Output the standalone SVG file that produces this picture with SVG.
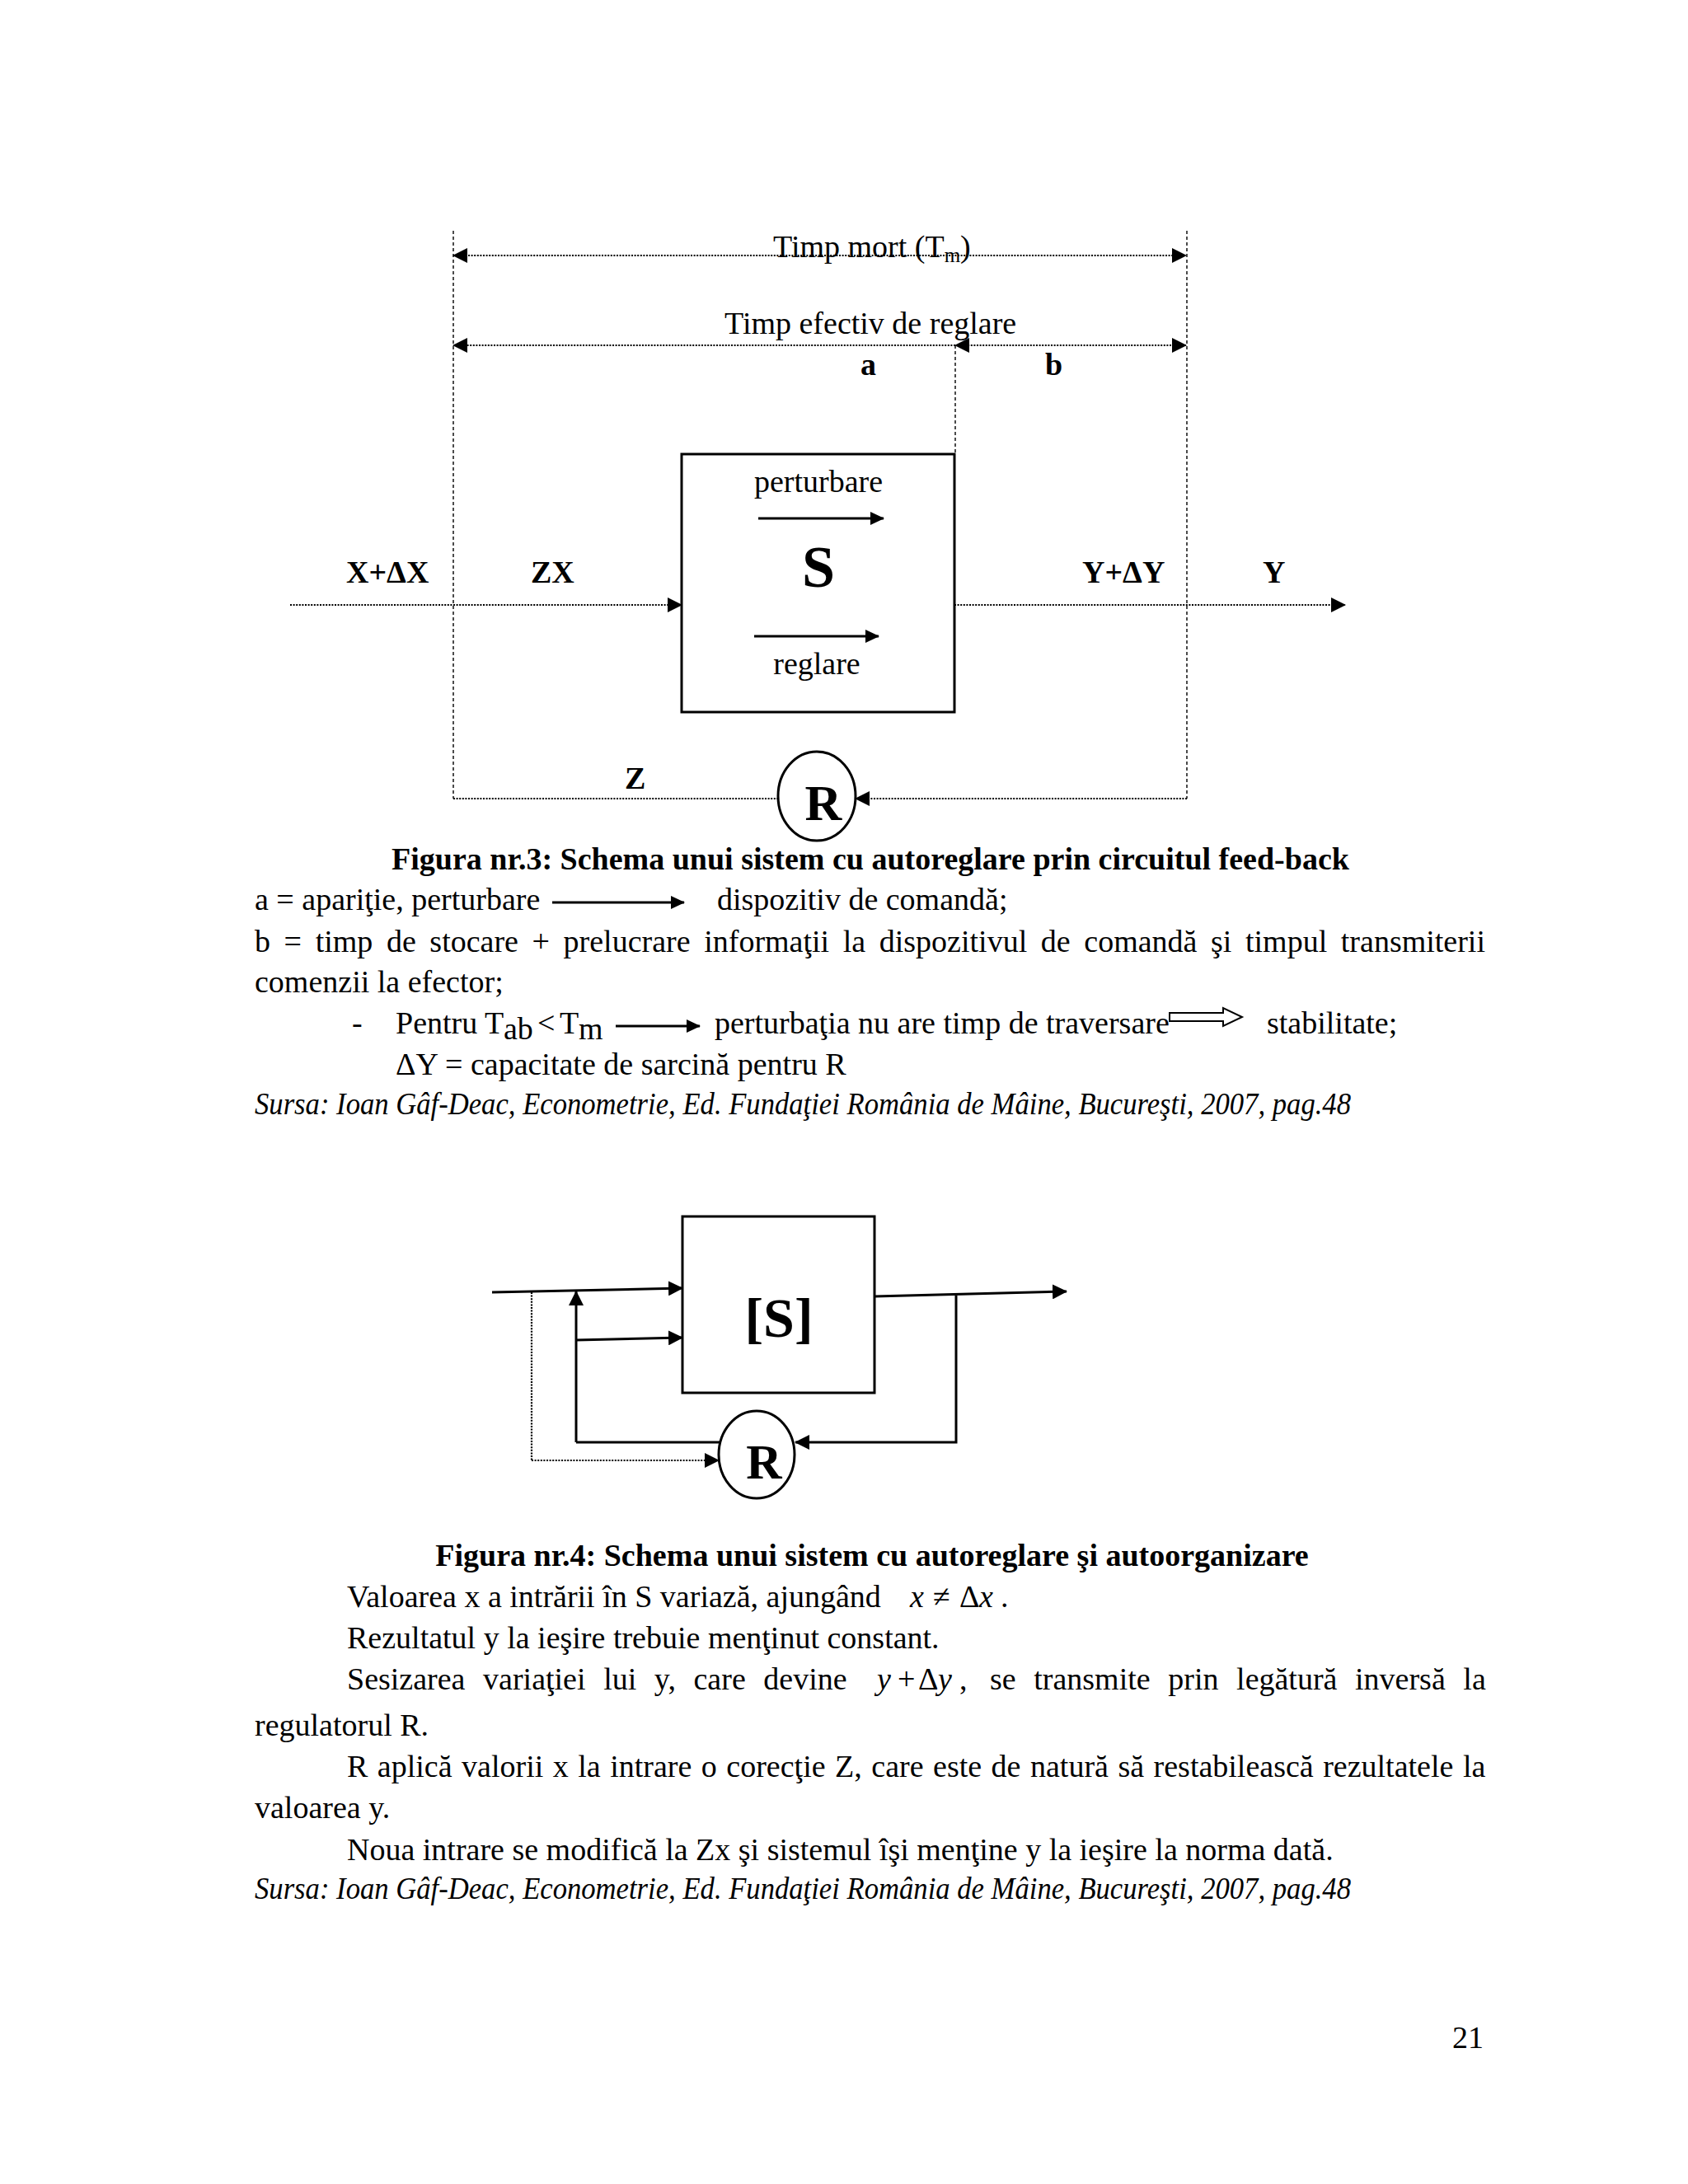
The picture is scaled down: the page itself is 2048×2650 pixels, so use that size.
<svg xmlns="http://www.w3.org/2000/svg" width="2048" height="2650" viewBox="0 0 2048 2650">
<style>
.t{font-family:"Liberation Serif","Times New Roman",serif;font-size:38px;fill:#000}
.b{font-weight:bold}
.i{font-style:italic}
.dot{stroke:#000;stroke-width:2.2;stroke-dasharray:2 1.6;fill:none}
.dash{stroke:#000;stroke-width:1.4;stroke-dasharray:4 3;fill:none}
.sol{stroke:#000;stroke-width:3;fill:none}
.box{stroke:#000;stroke-width:3;fill:none}
.circ{stroke:#000;stroke-width:3;fill:#fff}
</style>
<defs>
<marker id="ah" markerWidth="18" markerHeight="18" refX="17" refY="9" orient="auto-start-reverse" markerUnits="userSpaceOnUse"><path d="M0,0 L18,9 L0,18 z" fill="#000"/></marker>
<marker id="as" markerWidth="17" markerHeight="16" refX="16" refY="8" orient="auto" markerUnits="userSpaceOnUse"><path d="M0,0 L17,8 L0,16 z" fill="#000"/></marker>
</defs>
<rect width="2048" height="2650" fill="#fff"/>

<!-- Figure 3 -->
<g id="fig3-connectors">
<line class="dot" x1="550" y1="310" x2="1439" y2="310" marker-start="url(#ah)" marker-end="url(#ah)"/>
<line class="dot" x1="1159" y1="419" x2="550" y2="419" marker-end="url(#ah)"/>
<line class="dot" x1="1439" y1="419" x2="1159" y2="419" marker-start="url(#ah)" marker-end="url(#ah)"/>
<line class="dash" x1="550" y1="280" x2="550" y2="969"/>
<line class="dash" x1="1440" y1="280" x2="1440" y2="969"/>
<line class="dash" x1="1159" y1="419" x2="1159" y2="551"/>
<line class="dot" x1="352" y1="734" x2="827" y2="734" marker-end="url(#ah)"/>
<line class="dot" x1="1158" y1="734" x2="1632" y2="734" marker-end="url(#ah)"/>
<line class="dot" x1="550" y1="969" x2="944" y2="969"/>
<line class="dot" x1="1440" y1="969" x2="1038" y2="969" marker-end="url(#ah)"/>
<line class="sol" x1="920" y1="629" x2="1072" y2="629" marker-end="url(#as)"/>
<line class="sol" x1="915" y1="772" x2="1066" y2="772" marker-end="url(#as)"/>
</g>
<g id="fig3-S">
<rect class="box" x="827" y="551" width="331" height="313"/>
<text class="t" x="993" y="597" text-anchor="middle">perturbare</text>
<text class="t b" x="993" y="712" text-anchor="middle" style="font-size:72px">S</text>
<text class="t" x="991" y="818" text-anchor="middle">reglare</text>
</g>
<g id="fig3-R">
<ellipse class="circ" cx="991" cy="966" rx="47" ry="54"/>
<text class="t b" x="999" y="995" text-anchor="middle" style="font-size:62px">R</text>
</g>
<g id="fig3-labels">
<text class="t" x="938" y="312">Timp mort (T<tspan font-size="25" dy="6">m</tspan><tspan dy="-6">)</tspan></text>
<text class="t" x="879" y="405">Timp efectiv de reglare</text>
<text class="t b" x="1044" y="455">a</text>
<text class="t b" x="1268" y="455">b</text>
<text class="t b" x="420" y="707">X+ΔX</text>
<text class="t b" x="644" y="707">ZX</text>
<text class="t b" x="1313" y="707">Y+ΔY</text>
<text class="t b" x="1532" y="707">Y</text>
<text class="t b" x="758" y="957">Z</text>
</g>

<!-- Figure 3 text -->
<g id="fig3-text">
<text class="t b" x="1056" y="1055" text-anchor="middle">Figura nr.3: Schema unui sistem cu autoreglare prin circuitul feed-back</text>
<text class="t" x="309" y="1104">a = apariţie, perturbare</text>
<line class="sol" x1="670" y1="1095" x2="830" y2="1095" stroke-width="2" marker-end="url(#as)"/>
<text class="t" x="870" y="1104">dispozitiv de comandă;</text>
<text class="t" x="309" y="1155" word-spacing="7.1">b = timp de stocare + prelucrare informaţii la dispozitivul de comandă şi timpul transmiterii</text>
<text class="t" x="309" y="1204">comenzii la efector;</text>
<text class="t" x="427" y="1254">-</text>
<text class="t" x="480" y="1254">Pentru T</text>
<text class="t" x="611" y="1261" font-size="21">ab</text>
<text class="t" x="652" y="1254">&lt;</text>
<text class="t" x="679" y="1254">T</text>
<text class="t" x="702" y="1261" font-size="21">m</text>
<line class="sol" x1="747" y1="1245" x2="849" y2="1245" stroke-width="2" marker-end="url(#as)"/>
<text class="t" x="867" y="1254">perturbaţia nu are timp de traversare</text>
<path d="M1419,1229 L1484,1229 L1484,1223 L1507,1234 L1484,1245 L1484,1239 L1419,1239 Z" fill="#fff" stroke="#000" stroke-width="2"/>
<text class="t" x="1537" y="1254">stabilitate;</text>
<text class="t" x="480" y="1304">ΔY = capacitate de sarcină pentru R</text>
<text class="t i" x="309" y="1352" textLength="1330" lengthAdjust="spacingAndGlyphs">Sursa: Ioan Gâf-Deac, Econometrie, Ed. Fundaţiei România de Mâine, Bucureşti, 2007, pag.48</text>
</g>

<!-- Figure 4 -->
<g id="fig4-connectors">
<line class="sol" x1="597" y1="1568" x2="828" y2="1563" marker-end="url(#ah)"/>
<line class="dot" x1="645" y1="1568" x2="645" y2="1772" stroke-width="2"/>
<line class="dot" x1="645" y1="1772" x2="872" y2="1772" stroke-width="2" marker-end="url(#ah)"/>
<line class="sol" x1="699" y1="1750" x2="699" y2="1567" marker-end="url(#ah)"/>
<line class="sol" x1="699" y1="1626" x2="828" y2="1623" marker-end="url(#ah)"/>
<line class="sol" x1="699" y1="1750" x2="873" y2="1750"/>
<line class="sol" x1="1061" y1="1573" x2="1294" y2="1567" marker-end="url(#ah)"/>
<polyline class="sol" points="1160,1572 1160,1750 965,1750" marker-end="url(#ah)"/>
</g>
<g id="fig4-S">
<rect class="box" x="828" y="1476" width="233" height="214"/>
<text class="t b" x="945" y="1622" text-anchor="middle" style="font-size:68px">[S]</text>
</g>
<g id="fig4-R">
<ellipse class="circ" cx="918" cy="1765" rx="46" ry="53"/>
<text class="t b" x="927" y="1794" text-anchor="middle" style="font-size:60px">R</text>
</g>

<g id="fig4-text">
<text class="t b" x="1058" y="1900" text-anchor="middle">Figura nr.4: Schema unui sistem cu autoreglare şi autoorganizare</text>
<text class="t" x="421" y="1950">Valoarea x a intrării în S variază, ajungând</text>
<text class="t" y="1950"><tspan class="i" x="1104">x</tspan><tspan x="1132">≠</tspan><tspan x="1164">Δ</tspan><tspan class="i" x="1188">x</tspan><tspan x="1214">.</tspan></text>
<text class="t" x="421" y="2000">Rezultatul y la ieşire trebuie menţinut constant.</text>
<text class="t" x="421" y="2050" word-spacing="12.1">Sesizarea variaţiei lui y, care devine</text>
<text class="t" y="2050"><tspan class="i" x="1064">y</tspan><tspan x="1089">+</tspan><tspan x="1114">Δ</tspan><tspan class="i" x="1138">y</tspan><tspan x="1164">,</tspan></text>
<text class="t" x="1201" y="2050" word-spacing="12.1">se transmite prin legătură inversă la</text>
<text class="t" x="309" y="2106">regulatorul R.</text>
<text class="t" x="421" y="2156" word-spacing="2">R aplică valorii x la intrare o corecţie Z, care este de natură să restabilească rezultatele la</text>
<text class="t" x="309" y="2206">valoarea y.</text>
<text class="t" x="421" y="2257">Noua intrare se modifică la Zx şi sistemul îşi menţine y la ieşire la norma dată.</text>
<text class="t i" x="309" y="2304" textLength="1330" lengthAdjust="spacingAndGlyphs">Sursa: Ioan Gâf-Deac, Econometrie, Ed. Fundaţiei România de Mâine, Bucureşti, 2007, pag.48</text>
<text class="t" x="1800" y="2485" text-anchor="end">21</text>
</g>
</svg>
